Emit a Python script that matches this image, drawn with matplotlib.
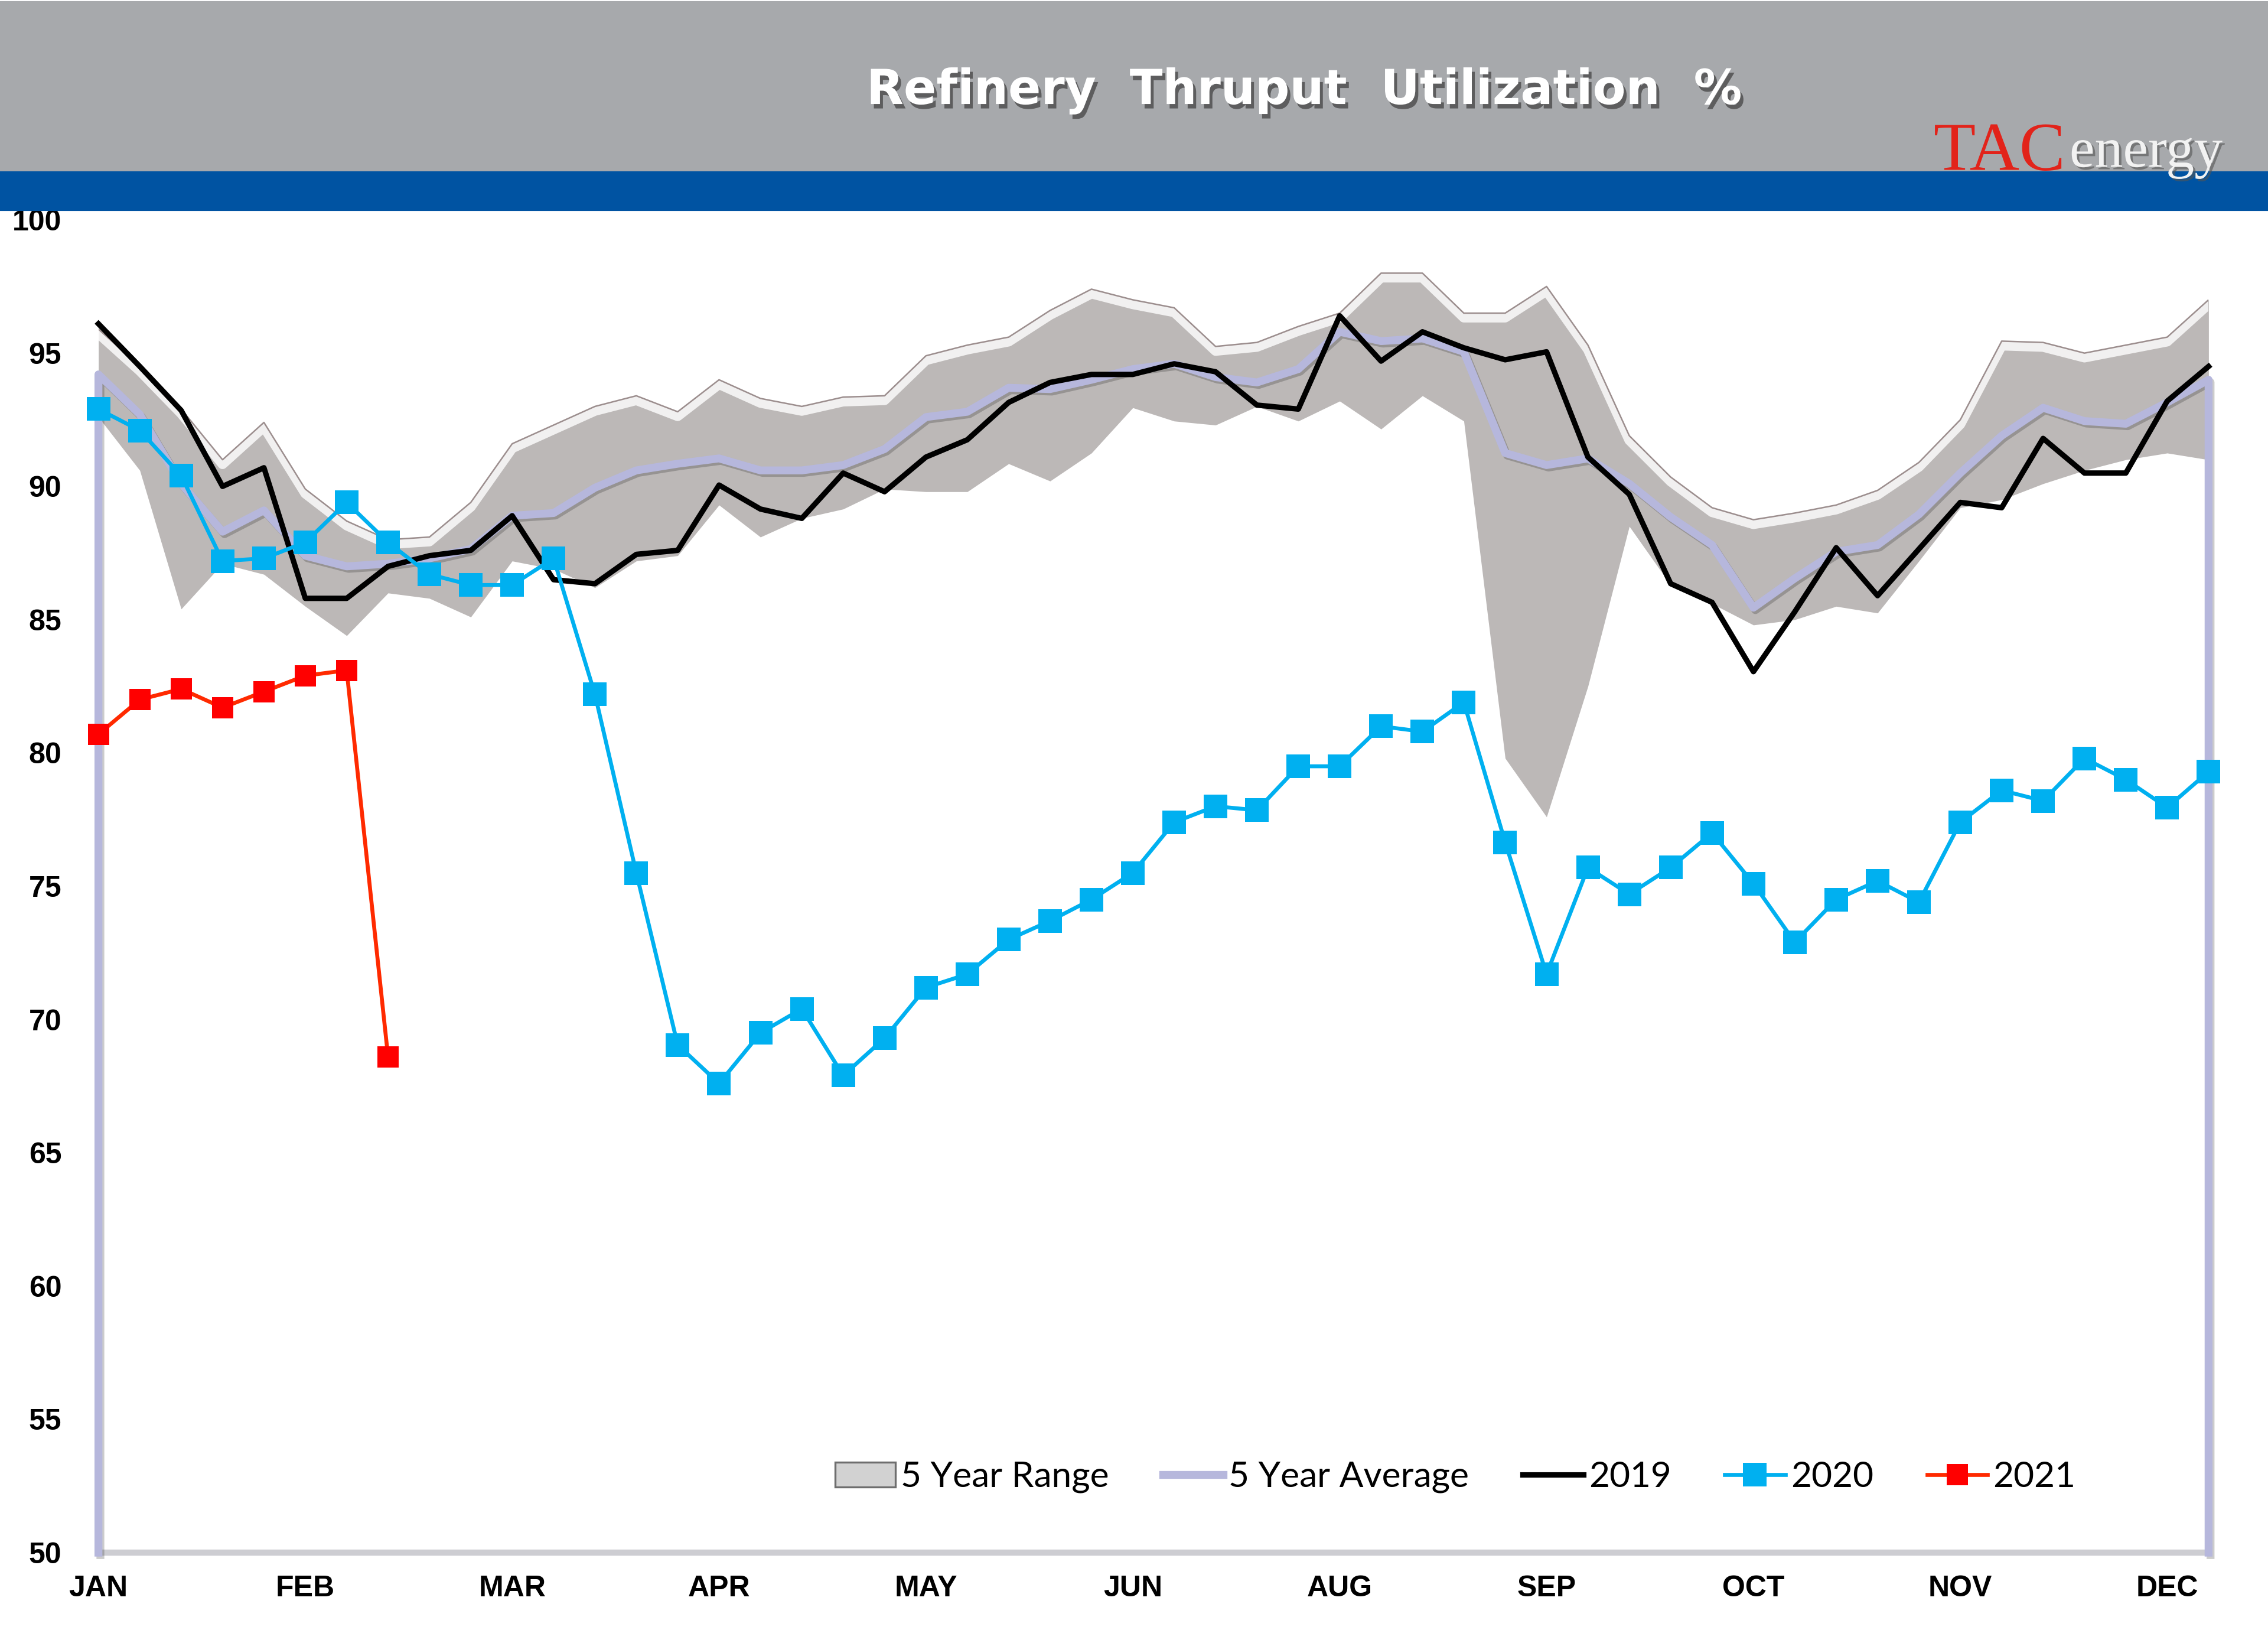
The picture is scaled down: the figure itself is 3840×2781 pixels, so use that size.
import matplotlib.pyplot as plt
import matplotlib.patheffects as pe
from matplotlib.patches import Rectangle, Patch
from matplotlib.lines import Line2D

# weekly values, week 0 .. 51
months = ['JAN', 'FEB', 'MAR', 'APR', 'MAY', 'JUN', 'AUG', 'SEP', 'OCT', 'NOV', 'DEC']

range_hi = [95.9, 94.5, 92.9, 91.0, 92.4, 89.9, 88.7, 88.0, 88.1, 89.4,
            91.6, 92.3, 93.0, 93.4, 92.8, 94.0, 93.3, 93.0, 93.35, 93.4,
            94.9, 95.3, 95.6, 96.6, 97.4, 97.0, 96.7, 95.25, 95.4, 96.0,
            96.5, 98.0, 98.0, 96.5, 96.5, 97.5, 95.3, 91.9, 90.35, 89.2,
            88.75, 89.0, 89.3, 89.85, 90.9, 92.5, 95.45, 95.4, 95.0, 95.3,
            95.6, 97.0]
range_lo = [92.6, 90.6, 85.4, 87.1, 86.7, 85.5, 84.4, 86.0, 85.8, 85.1,
            87.2, 86.9, 86.2, 87.2, 87.4, 89.3, 88.1, 88.8, 89.15, 89.9,
            89.8, 89.8, 90.85, 90.2, 91.25, 92.95, 92.45, 92.3, 93.0, 92.45,
            93.2, 92.15, 93.4, 92.45, 79.8, 77.6, 82.5, 88.5, 86.3, 85.6,
            84.8, 85.0, 85.5, 85.25, 87.2, 89.2, 89.5, 90.1, 90.6, 91.0,
            91.25, 91.0]
avg5 = [94.2, 92.7, 90.1, 88.3, 89.1, 87.4, 87.0, 87.1, 87.3, 87.65,
        88.9, 89.0, 89.95, 90.6, 90.85, 91.05, 90.6, 90.6, 90.8, 91.4,
        92.6, 92.8, 93.7, 93.65, 94.0, 94.4, 94.6, 94.1, 93.9, 94.4,
        95.8, 95.45, 95.55, 95.05, 91.25, 90.8, 91.05, 90.1, 88.85, 87.8,
        85.45, 86.55, 87.55, 87.8, 88.95, 90.5, 91.9, 92.95, 92.45, 92.35,
        93.15, 94.0]
y2019 = [96.1, 94.5, 92.85, 90.0, 90.7, 85.8, 85.8, 87.0, 87.4, 87.6,
         88.9, 86.5, 86.35, 87.45, 87.6, 90.05, 89.15, 88.8, 90.5, 89.8,
         91.1, 91.75, 93.15, 93.9, 94.2, 94.2, 94.6, 94.3, 93.05, 92.9,
         96.4, 94.7, 95.8, 95.2, 94.75, 95.05, 91.1, 89.7, 86.35, 85.65,
         83.05, 85.3, 87.7, 85.9, 87.65, 89.4, 89.2, 91.8, 90.5, 90.5,
         93.2, 94.5]
y2020 = [92.9, 92.1, 90.4, 87.2, 87.3, 87.9, 89.4, 87.9, 86.7, 86.3,
         86.3, 87.3, 82.2, 75.5, 69.05, 67.6, 69.5, 70.4, 67.9, 69.3,
         71.2, 71.7, 73.0, 73.7, 74.5, 75.5, 77.4, 78.0, 77.85, 79.5,
         79.5, 81.0, 80.8, 81.9, 76.65, 71.7, 75.7, 74.7, 75.7, 77.0,
         75.1, 72.9, 74.5, 75.2, 74.4, 77.4, 78.6, 78.2, 79.8, 79.0,
         77.95, 79.3]
y2021 = [80.7, 82.0, 82.4, 81.7, 82.3, 82.9, 83.1, 68.6]

y_min, y_max = 50, 100
weeks = list(range(len(y2019)))

fig = plt.figure(figsize=(12.8, 9.27), dpi=300)

# header bands
fig.patches.append(Rectangle((0, 0.8957), 1, 0.1028, transform=fig.transFigure,
                             color='#A7A9AC', zorder=0))
fig.patches.append(Rectangle((0, 0.8723), 1, 0.0227, transform=fig.transFigure,
                             color='#0053A2', zorder=0))
fig.text(0.575, 0.9446, 'Refinery  Thruput  Utilization  %', color='white',
         family='DejaVu Sans', weight='bold', size=19.6, ha='center', va='center',
         path_effects=[pe.SimplePatchShadow(offset=(1.2, -1.8), shadow_rgbFace='#444444', alpha=0.75),
                       pe.Normal()])
fig.text(0.8525, 0.8965, 'TAC', color='#E2231A', family='Liberation Serif', size=28,
         ha='left', va='baseline')
fig.text(0.9125, 0.8985, 'energy', color='#F2F2F2', family='Liberation Serif', size=23,
         ha='left', va='baseline',
         path_effects=[pe.SimplePatchShadow(offset=(1, -1), shadow_rgbFace='#555555', alpha=0.6),
                       pe.Normal()])

ax = fig.add_axes([0.0434, 0.0550, 0.9304, 0.8112])
ax.set_xlim(weeks[0], weeks[-1])
ax.set_ylim(y_min, y_max)

# 5 year range
ax.fill_between(weeks, range_lo, range_hi, color='#BCB8B7', lw=0, zorder=1)
ax.plot(weeks, range_hi, color='#9C8E8E', lw=0.6, zorder=2,
        path_effects=[pe.SimpleLineShadow(offset=(0, -1.8), shadow_color='white',
                                          alpha=0.8, rho=1, linewidth=4),
                      pe.Normal()])

# 5 year average, drops to the floor at both ends as in the source chart
avg_x = [weeks[0]] + weeks + [weeks[-1]]
avg_y = [y_min] + avg5 + [y_min]
ax.plot(avg_x, avg_y, color='#B6B7DC', lw=3.2, zorder=3, clip_on=False,
        path_effects=[pe.SimpleLineShadow(offset=(0.8, -1.0), alpha=0.2), pe.Normal()])

ax.plot(weeks, y2019, color='black', lw=2.2, zorder=4, clip_on=False)
ax.plot(weeks, y2020, color='#00B0F0', lw=1.6, marker='s', ms=9.5, mew=0,
        zorder=5, clip_on=False)
ax.plot(weeks[:len(y2021)], y2021, color='#FF2A00', lw=1.6, marker='s', ms=8.5,
        mfc='#FF0000', mew=0, zorder=6, clip_on=False)

for s in ['top', 'right', 'left']:
    ax.spines[s].set_visible(False)
ax.spines['bottom'].set_color('#CDCDD2')
ax.spines['bottom'].set_linewidth(2.5)

ax.set_yticks(range(y_min, y_max + 1, 5))
ax.set_xticks(weeks[::5])
ax.set_xticklabels(months)
ax.tick_params(axis='both', length=0, labelsize=12)
ax.tick_params(axis='y', pad=15)
ax.tick_params(axis='x', pad=9)
for lab in ax.get_xticklabels() + ax.get_yticklabels():
    lab.set_family('Liberation Sans')
    lab.set_weight('bold')

handles = [
    Patch(facecolor='#D2D2D2', edgecolor='#6E6E6E', lw=0.8),
    Line2D([], [], color='#B6B7DC', lw=3.2),
    Line2D([], [], color='black', lw=2.2),
    Line2D([], [], color='#00B0F0', lw=1.6, marker='s', ms=9.5, mew=0),
    Line2D([], [], color='#FF2A00', lw=1.6, marker='s', ms=8.5, mfc='#FF0000', mew=0),
]
labels = ['5 Year Range', '5 Year Average', '2019', '2020', '2021']
ax.legend(handles, labels, loc='center', bbox_to_anchor=(0.643, 0.0567), ncol=5,
          frameon=False, handlelength=1.7, handletextpad=0.15, columnspacing=1.5,
          prop={'family': 'Lato', 'size': 14.5})

plt.savefig('out.png', dpi=300)
plt.close()
